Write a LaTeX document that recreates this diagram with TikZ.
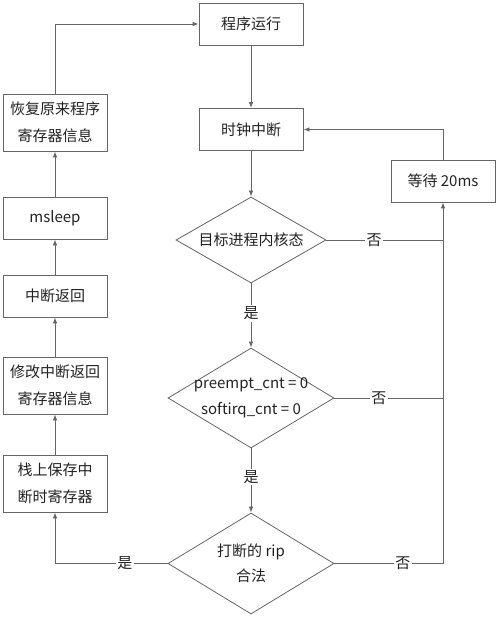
\documentclass[tikz,border=0pt]{standalone}
\usepackage{fontspec}
\setmainfont{Noto Sans CJK SC}
\usetikzlibrary{shapes.geometric,arrows.meta}
\definecolor{ln}{HTML}{666666}
\definecolor{tx}{HTML}{222222}
\begin{document}
\begin{tikzpicture}[x=1pt,y=-1pt,
  box/.style={draw=ln, line width=0.8pt, minimum width=104pt, minimum height=42pt, inner sep=0pt, text=tx, font=\fontsize{15}{26.5}\selectfont, align=center},
  dia/.style={diamond, aspect=1, draw=ln, line width=0.8pt, inner sep=0pt},
  txt/.style={text=tx, font=\fontsize{15}{25.5}\selectfont, align=center, inner sep=0pt},
  conn/.style={draw=ln, line width=0.8pt},
  arr/.style={conn, -{Latex[length=6pt,width=4.5pt]}},
  lab/.style={fill=white, text=tx, inner sep=1.5pt, font=\fontsize{15}{17}\selectfont}]
\useasboundingbox (0,0) rectangle (500,617);
% centre column
\node[box] (run) at (251,24) {程序运行};
\node[box] (clk) at (251,129.5) {时钟中断};
\node[dia, minimum width=150pt, minimum height=86pt] (d1) at (251,240) {};
\node[txt] (t1) at (d1.center) {目标进程内核态};
\node[dia, minimum width=166pt, minimum height=100pt] (d2) at (251,398) {};
\node[txt] (t2) at (d2.center) {preempt\_cnt = 0\\softirq\_cnt = 0};
\node[dia, minimum width=166pt, minimum height=101pt] (d3) at (251,563.5) {};
\node[txt] (t3) at (d3.center) {打断的 rip\\合法};
% right
\node[box] (wait) at (443,181) {等待 20ms};
\coordinate (j1) at (443,240);
\coordinate (j2) at (443,398);
\coordinate (j3) at (443,563.5);
% left column
\node[box, minimum height=57pt] (rest) at (55,122.5) {恢复原来程序\\寄存器信息};
\node[box] (msl) at (55,218) {msleep};
\node[box] (iret) at (55,296) {中断返回};
\node[box, minimum height=57pt] (mod) at (55,385.5) {修改中断返回\\寄存器信息};
\node[box, minimum height=57pt] (stk) at (55,483.5) {栈上保存中\\断时寄存器};
% connectors
\draw[arr] (run) -- (clk);
\draw[arr] (clk) -- (d1);
\draw[arr] (d1) -- node[lab, pos=0.47] {是} (d2);
\draw[arr] (d2) -- node[lab, pos=0.45] {是} (d3);
\draw[conn] (d1.east) -- node[lab, pos=0.41] {否} (j1);
\draw[conn] (d2.east) -- node[lab, pos=0.41] {否} (j2);
\draw[arr] (d3.east) -- node[lab, pos=0.63] {否} (j3) -- (wait.south);
\draw[arr] (wait.north) |- (clk.east);
\draw[arr] (d3.west) -| node[lab, pos=0.19] {是} (stk.south);
\draw[arr] (stk) -- (mod);
\draw[arr] (mod) -- (iret);
\draw[arr] (iret) -- (msl);
\draw[arr] (msl) -- (rest);
\draw[arr] (rest.north) |- (run.west);
\end{tikzpicture}
\end{document}
